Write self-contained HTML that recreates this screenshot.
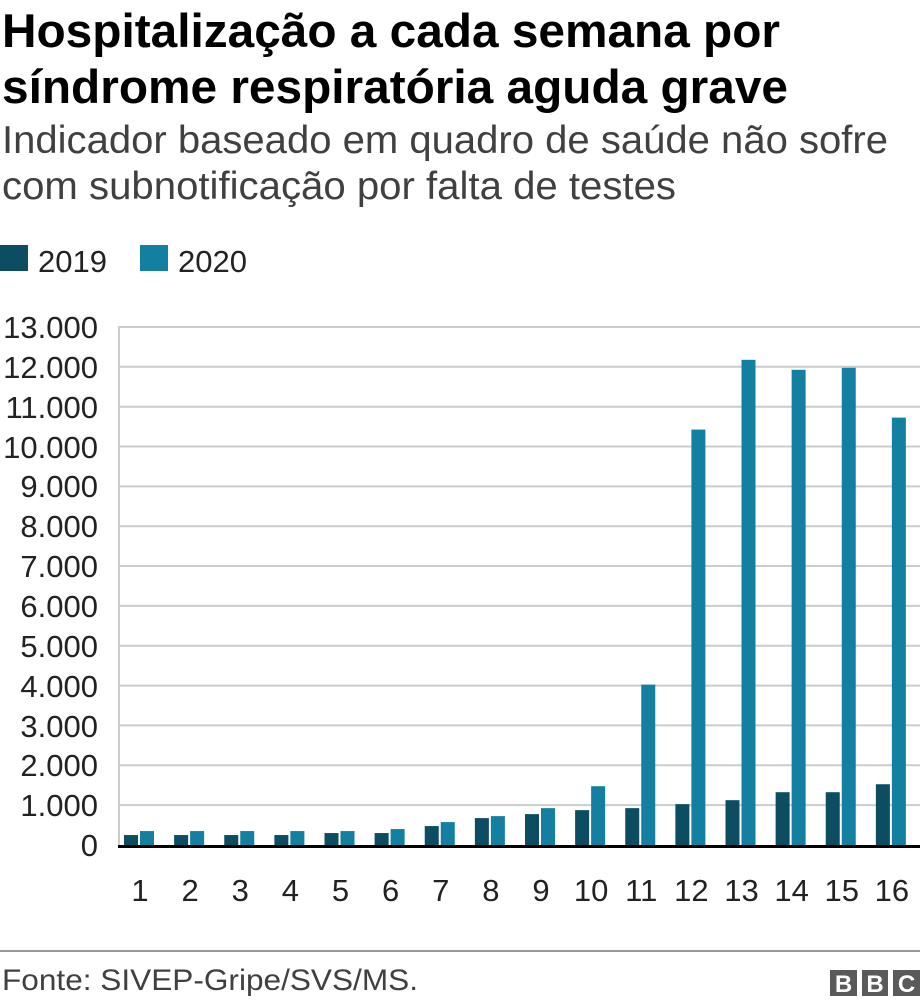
<!DOCTYPE html>
<html><head><meta charset="utf-8"><style>
html,body{margin:0;padding:0;background:#fff;}
svg{display:block;font-family:"Liberation Sans",Arial,sans-serif;}
</style></head><body>
<svg width="920" height="1006" viewBox="0 0 920 1006" xmlns="http://www.w3.org/2000/svg">
<text x="2" y="47" font-size="47" font-weight="bold" fill="#000" textLength="778" lengthAdjust="spacingAndGlyphs">Hospitalização a cada semana por</text>
<text x="2" y="103" font-size="47" font-weight="bold" fill="#000" textLength="786" lengthAdjust="spacingAndGlyphs">síndrome respiratória aguda grave</text>
<text x="2" y="153" font-size="39" fill="#404040" textLength="886" lengthAdjust="spacingAndGlyphs">Indicador baseado em quadro de saúde não sofre</text>
<text x="2" y="199" font-size="39" fill="#404040" textLength="674" lengthAdjust="spacingAndGlyphs">com subnotificação por falta de testes</text>
<rect x="0" y="245" width="28" height="26" fill="#0c4d62"/>
<text x="38" y="272" font-size="31" fill="#222">2019</text>
<rect x="140" y="245" width="28" height="26" fill="#1380a1"/>
<text x="178" y="272" font-size="31" fill="#222">2020</text>
<g stroke="#cccccc" stroke-width="2">
<line x1="118" x2="920" y1="327" y2="327"/><line x1="118" x2="920" y1="366.8" y2="366.8"/>
<line x1="118" x2="920" y1="406.7" y2="406.7"/><line x1="118" x2="920" y1="446.5" y2="446.5"/>
<line x1="118" x2="920" y1="486.4" y2="486.4"/><line x1="118" x2="920" y1="526.2" y2="526.2"/>
<line x1="118" x2="920" y1="566" y2="566"/><line x1="118" x2="920" y1="605.9" y2="605.9"/>
<line x1="118" x2="920" y1="645.7" y2="645.7"/><line x1="118" x2="920" y1="685.6" y2="685.6"/>
<line x1="118" x2="920" y1="725.4" y2="725.4"/><line x1="118" x2="920" y1="765.2" y2="765.2"/>
<line x1="118" x2="920" y1="805.1" y2="805.1"/>
<line x1="119" x2="119" y1="327" y2="846"/>
</g>
<g font-size="31" fill="#222" text-anchor="end">
<text x="98" y="338">13.000</text><text x="98" y="378">12.000</text><text x="98" y="418">11.000</text>
<text x="98" y="458">10.000</text><text x="98" y="497">9.000</text><text x="98" y="537">8.000</text>
<text x="98" y="577">7.000</text><text x="98" y="617">6.000</text><text x="98" y="657">5.000</text>
<text x="98" y="697">4.000</text><text x="98" y="737">3.000</text><text x="98" y="776">2.000</text>
<text x="98" y="816">1.000</text><text x="98" y="856">0</text>
</g>
<g id="bars"></g>
<line x1="118" x2="920" y1="846.5" y2="846.5" stroke="#000" stroke-width="3"/>
<g font-size="31" fill="#222" text-anchor="middle" id="xl"></g>
<line x1="0" x2="920" y1="951" y2="951" stroke="#777" stroke-width="1.5"/>
<text x="2" y="990" font-size="30" fill="#404040" textLength="416" lengthAdjust="spacingAndGlyphs">Fonte: SIVEP-Gripe/SVS/MS.</text>
<g fill="#5a5a5a"><rect x="830" y="970" width="27" height="26"/><rect x="862" y="970" width="26" height="26"/><rect x="893" y="970" width="27" height="26"/></g>
<g fill="#fff" font-size="24" font-weight="bold" text-anchor="middle"><text x="843.5" y="992">B</text><text x="875" y="992">B</text><text x="906.5" y="992">C</text></g>
<script>
var a=[250,250,250,250,300,300,475,675,775,875,925,1025,1125,1325,1325,1525];
var b=[350,350,350,350,350,400,575,725,925,1475,4025,10425,12175,11925,11975,10725];
var g=document.getElementById('bars'),x=document.getElementById('xl'),ns='http://www.w3.org/2000/svg';
for(var i=0;i<16;i++){var s=118+i*50.125;
[[a[i],s+6,'#0c4d62'],[b[i],s+22,'#1380a1']].forEach(function(d){var h=d[0]*0.03985;var r=document.createElementNS(ns,'rect');r.setAttribute('x',d[1]);r.setAttribute('y',845-h);r.setAttribute('width',14);r.setAttribute('height',h);r.setAttribute('fill',d[2]);g.appendChild(r);});
var t=document.createElementNS(ns,'text');t.setAttribute('x',s+22);t.setAttribute('y',901);t.textContent=i+1;x.appendChild(t);}
</script>
</svg>
</body></html>
